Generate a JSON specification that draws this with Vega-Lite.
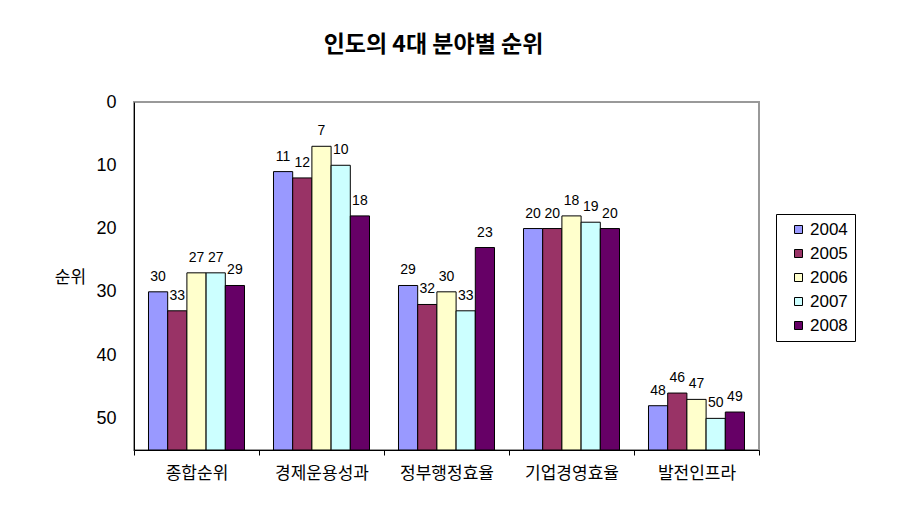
{
  "$schema": "https://vega.github.io/schema/vega-lite/v6.json",
  "width": 625,
  "height": 348,
  "autosize": {"type": "none"},
  "padding": {"left": 134, "top": 102, "right": 146, "bottom": 74},
  "background": "white",
  "config": {
    "view": {"stroke": "#999999", "strokeWidth": 2},
    "font": "Liberation Sans, 'Noto Sans CJK KR'"
  },
  "title": {
    "text": "인도의 4대 분야별 순위",
    "font": "'Noto Sans CJK KR'",
    "fontSize": 23,
    "fontWeight": "bold",
    "color": "black",
    "anchor": "middle",
    "frame": "group",
    "dx": -13,
    "baseline": "alphabetic",
    "offset": 18
  },
  "data": {
    "values": [
      {"category": "종합순위", "year": "2004", "rank": 30},
      {"category": "종합순위", "year": "2005", "rank": 33},
      {"category": "종합순위", "year": "2006", "rank": 27},
      {"category": "종합순위", "year": "2007", "rank": 27},
      {"category": "종합순위", "year": "2008", "rank": 29},
      {"category": "경제운용성과", "year": "2004", "rank": 11},
      {"category": "경제운용성과", "year": "2005", "rank": 12},
      {"category": "경제운용성과", "year": "2006", "rank": 7},
      {"category": "경제운용성과", "year": "2007", "rank": 10},
      {"category": "경제운용성과", "year": "2008", "rank": 18},
      {"category": "정부행정효율", "year": "2004", "rank": 29},
      {"category": "정부행정효율", "year": "2005", "rank": 32},
      {"category": "정부행정효율", "year": "2006", "rank": 30},
      {"category": "정부행정효율", "year": "2007", "rank": 33},
      {"category": "정부행정효율", "year": "2008", "rank": 23},
      {"category": "기업경영효율", "year": "2004", "rank": 20},
      {"category": "기업경영효율", "year": "2005", "rank": 20},
      {"category": "기업경영효율", "year": "2006", "rank": 18},
      {"category": "기업경영효율", "year": "2007", "rank": 19},
      {"category": "기업경영효율", "year": "2008", "rank": 20},
      {"category": "발전인프라", "year": "2004", "rank": 48},
      {"category": "발전인프라", "year": "2005", "rank": 46},
      {"category": "발전인프라", "year": "2006", "rank": 47},
      {"category": "발전인프라", "year": "2007", "rank": 50},
      {"category": "발전인프라", "year": "2008", "rank": 49}
    ]
  },
  "encoding": {
    "x": {
      "field": "category",
      "type": "nominal",
      "sort": null,
      "scale": {"paddingInner": 0, "paddingOuter": 0},
      "axis": {
        "title": null,
        "labelAngle": 0,
        "labelFont": "'Noto Sans CJK KR'",
        "labelFontSize": 17,
        "labelColor": "black",
        "labelPadding": 10,
        "domainColor": "black",
        "tickColor": "black",
        "tickSize": 5,
        "tickBand": "extent"
      }
    },
    "xOffset": {
      "field": "year",
      "type": "nominal",
      "scale": {"paddingInner": 0, "paddingOuter": 0.755}
    },
    "y": {
      "field": "rank",
      "type": "quantitative",
      "scale": {"domain": [0, 55], "reverse": true, "nice": false, "zero": false},
      "axis": {
        "values": [0, 10, 20, 30, 40, 50],
        "grid": false,
        "ticks": false,
        "labelFontSize": 18,
        "labelColor": "black",
        "labelPadding": 18,
        "domainColor": "black",
        "title": "순위",
        "titleFont": "'Noto Sans CJK KR'",
        "titleFontSize": 17,
        "titleFontWeight": "normal",
        "titleColor": "black",
        "titleAngle": 0,
        "titleAlign": "center",
        "titleBaseline": "middle",
        "titleX": -64,
        "titleY": 175
      }
    }
  },
  "layer": [
    {
      "mark": {"type": "bar", "stroke": "black", "strokeWidth": 1},
      "encoding": {
        "y2": {"datum": 55},
        "color": {
          "field": "year",
          "type": "nominal",
          "scale": {
            "domain": ["2004", "2005", "2006", "2007", "2008"],
            "range": ["#9999FF", "#993366", "#FFFFCC", "#CCFFFF", "#660066"]
          },
          "legend": {
            "title": null,
            "orient": "none",
            "legendX": 642,
            "legendY": 112,
            "strokeColor": "black",
            "fillColor": "white",
            "padding": 7,
            "rowPadding": 6,
            "symbolType": "square",
            "symbolSize": 64,
            "symbolStrokeColor": "black",
            "symbolStrokeWidth": 1,
            "symbolOffset": 7,
            "labelFontSize": 17,
            "labelColor": "black",
            "labelOffset": 3
          }
        }
      }
    },
    {
      "mark": {"type": "text", "baseline": "alphabetic", "dy": -11, "fontSize": 14, "color": "black"},
      "encoding": {
        "text": {"field": "rank", "type": "quantitative"}
      }
    }
  ]
}
